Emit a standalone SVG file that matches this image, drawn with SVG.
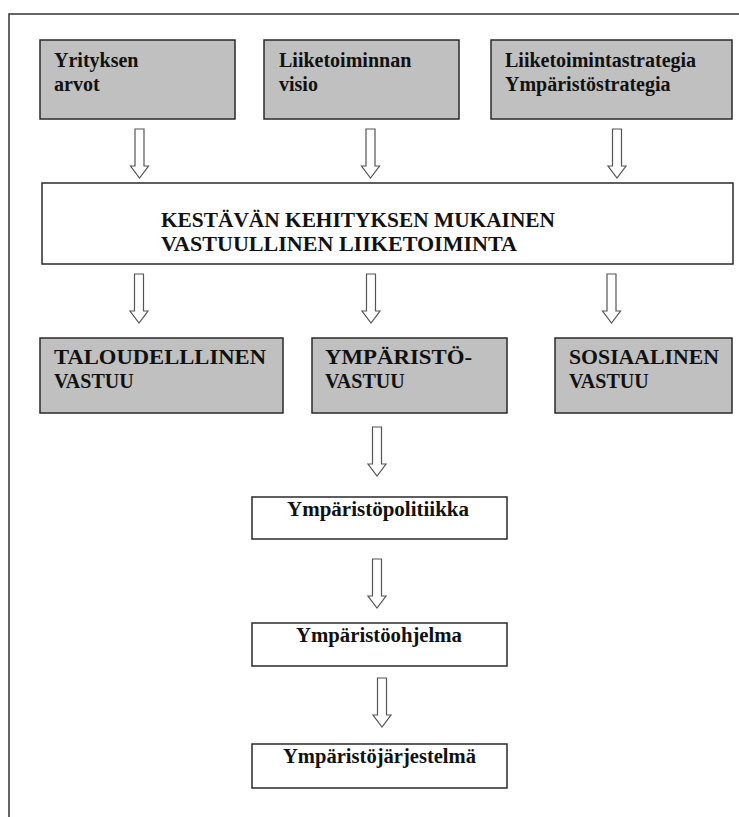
<svg xmlns="http://www.w3.org/2000/svg" xmlns:xlink="http://www.w3.org/1999/xlink" width="739" height="817" viewBox="0 0 739 817">
<style>
.frame{fill:none;stroke:#333;stroke-width:1.5}
.gray{fill:#c0c0c0;stroke:#2a2a2a;stroke-width:1.5}
.white{fill:#fff;stroke:#2a2a2a;stroke-width:1.5}
.t{font-weight:bold;font-size:20px;fill:#111}
.arrow{fill:#fff;stroke:#555;stroke-width:1.2}
</style>
<defs>
<path id="arr" class="arrow" d="M-4.5,0 H4.5 V37 H9 L0,49 L-9,37 H-4.5 Z"/>
</defs>
<rect width="739" height="817" fill="#fff"/>
<path class="frame" d="M9,817 V14 H739"/>
<g id="connectors">
<use xlink:href="#arr" x="139.5" y="129"/>
<use xlink:href="#arr" x="370.5" y="129"/>
<use xlink:href="#arr" x="617" y="129"/>
<use xlink:href="#arr" x="139" y="274"/>
<use xlink:href="#arr" x="371" y="274"/>
<use xlink:href="#arr" x="611.5" y="274"/>
<use xlink:href="#arr" x="377" y="427"/>
<use xlink:href="#arr" x="377" y="559"/>
<use xlink:href="#arr" x="382" y="678"/>
</g>
<g font-family="'Liberation Serif', 'Times New Roman', 'DejaVu Serif', serif">
<g id="n-arvot">
<rect class="gray" x="40" y="40" width="195" height="79"/>
<text class="t" x="54" y="67">Yrityksen</text>
<text class="t" x="54" y="91">arvot</text>
</g>
<g id="n-visio">
<rect class="gray" x="264" y="40" width="195" height="79"/>
<text class="t" x="279" y="67">Liiketoiminnan</text>
<text class="t" x="279" y="91">visio</text>
</g>
<g id="n-strategia">
<rect class="gray" x="491" y="40" width="241" height="79"/>
<text class="t" x="505" y="67">Liiketoimintastrategia</text>
<text class="t" x="505" y="91">Ympäristöstrategia</text>
</g>
<g id="n-kestava">
<rect class="white" x="42" y="183" width="691" height="81"/>
<text class="t" x="161" y="227" textLength="394" lengthAdjust="spacingAndGlyphs">KESTÄVÄN KEHITYKSEN MUKAINEN</text>
<text class="t" x="161" y="251" textLength="356" lengthAdjust="spacingAndGlyphs">VASTUULLINEN LIIKETOIMINTA</text>
</g>
<g id="n-talous">
<rect class="gray" x="40" y="338" width="243" height="75"/>
<text class="t" x="54" y="364" textLength="212" lengthAdjust="spacingAndGlyphs">TALOUDELLLINEN</text>
<text class="t" x="54" y="388">VASTUU</text>
</g>
<g id="n-ymparisto">
<rect class="gray" x="312" y="338" width="195" height="75"/>
<text class="t" x="325" y="364" textLength="147" lengthAdjust="spacingAndGlyphs">YMPÄRISTÖ-</text>
<text class="t" x="325" y="388">VASTUU</text>
</g>
<g id="n-sosiaalinen">
<rect class="gray" x="555" y="338" width="177" height="75"/>
<text class="t" x="569" y="364" textLength="150" lengthAdjust="spacingAndGlyphs">SOSIAALINEN</text>
<text class="t" x="569" y="388">VASTUU</text>
</g>
<g id="n-politiikka">
<rect class="white" x="252" y="497" width="255" height="42"/>
<text class="t" x="287" y="516" textLength="182" lengthAdjust="spacingAndGlyphs">Ympäristöpolitiikka</text>
</g>
<g id="n-ohjelma">
<rect class="white" x="252" y="623" width="255" height="43"/>
<text class="t" x="296" y="642" textLength="166" lengthAdjust="spacingAndGlyphs">Ympäristöohjelma</text>
</g>
<g id="n-jarjestelma">
<rect class="white" x="252" y="744" width="255" height="44"/>
<text class="t" x="283" y="763" textLength="193" lengthAdjust="spacingAndGlyphs">Ympäristöjärjestelmä</text>
</g>
</g>
</svg>
